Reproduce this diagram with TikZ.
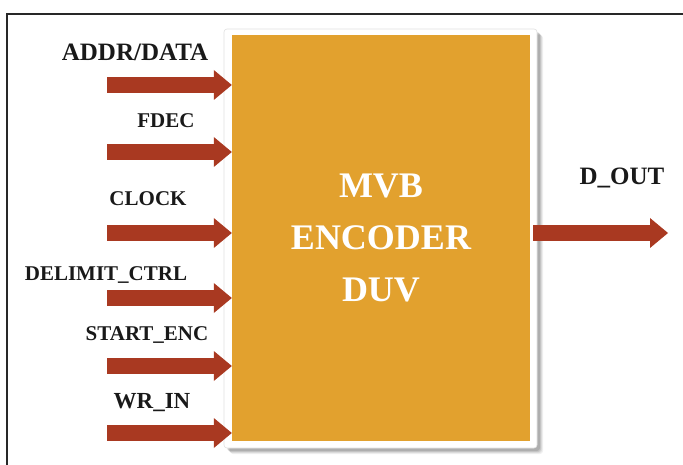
\documentclass[tikz,border=0pt]{standalone}
\usepackage{fontspec}
\setmainfont{Liberation Serif}
\usetikzlibrary{arrows.meta,calc}
\definecolor{duvfill}{RGB}{226,161,46}
\definecolor{sigred}{RGB}{169,57,33}
\definecolor{framegray}{RGB}{40,40,40}
\tikzset{
  lbl/.style={font=\bfseries\fontsize{21}{24}\selectfont, text=black!90, inner sep=0pt, anchor=base},
  sig/.style={draw=sigred, line width=16pt,
    -{Triangle[length=18pt,width=30pt,line width=0pt]}},
  duvbox/.style={fill=duvfill, draw=none, minimum width=298pt, minimum height=406pt,
    inner sep=0pt, text=white, align=center,
    font=\bfseries\fontsize{36}{52}\selectfont},
}
\begin{document}
\begin{tikzpicture}[x=1pt,y=-1pt]
\useasboundingbox (0,0) rectangle (683,465);
% outer frame (top and left edges)
\draw[framegray, line width=2pt] (7,465) -- (7,14) -- (683,14);

% soft shadow behind the white mount
\foreach \o/\a in {6/0.06,5/0.08,4/0.10,3/0.12}
  \fill[black, opacity=\a, rounded corners=3pt] (224+\o,29+\o) rectangle (537+\o,448+\o);
% white mount
\filldraw[fill=white, draw=black!12, line width=0.6pt, rounded corners=3pt] (224,29) rectangle (537,448);

% encoder block
\node[duvbox] (duv) at (381,238) {MVB\\ENCODER\\DUV};

% input ports
\coordinate (i1) at (107,85);
\coordinate (i2) at (107,152);
\coordinate (i3) at (107,233);
\coordinate (i4) at (107,298);
\coordinate (i5) at (107,366);
\coordinate (i6) at (107,433);
\foreach \p in {i1,i2,i3,i4,i5,i6}
  \draw[sig] (\p) -- (\p -| duv.west);

% output port
\coordinate (o1) at (533,233);
\coordinate (o1e) at (668,233);
\draw[sig] (o1) -- (o1e);

% port labels
\node[lbl, font=\bfseries\fontsize{25}{28}\selectfont] (l1) at (135,61) {ADDR/DATA};
\node[lbl] (l2) at (166,128) {FDEC};
\node[lbl] (l3) at (148,206) {CLOCK};
\node[lbl] (l4) at (106,280) {DELIMIT\_CTRL};
\node[lbl] (l5) at (147,340) {START\_ENC};
\node[lbl, font=\bfseries\fontsize{23}{26}\selectfont] (l6) at (152,408) {WR\_IN};
\node[lbl, font=\bfseries\fontsize{25}{28}\selectfont] (lo) at (622,185) {D\_OUT};
\end{tikzpicture}
\end{document}
